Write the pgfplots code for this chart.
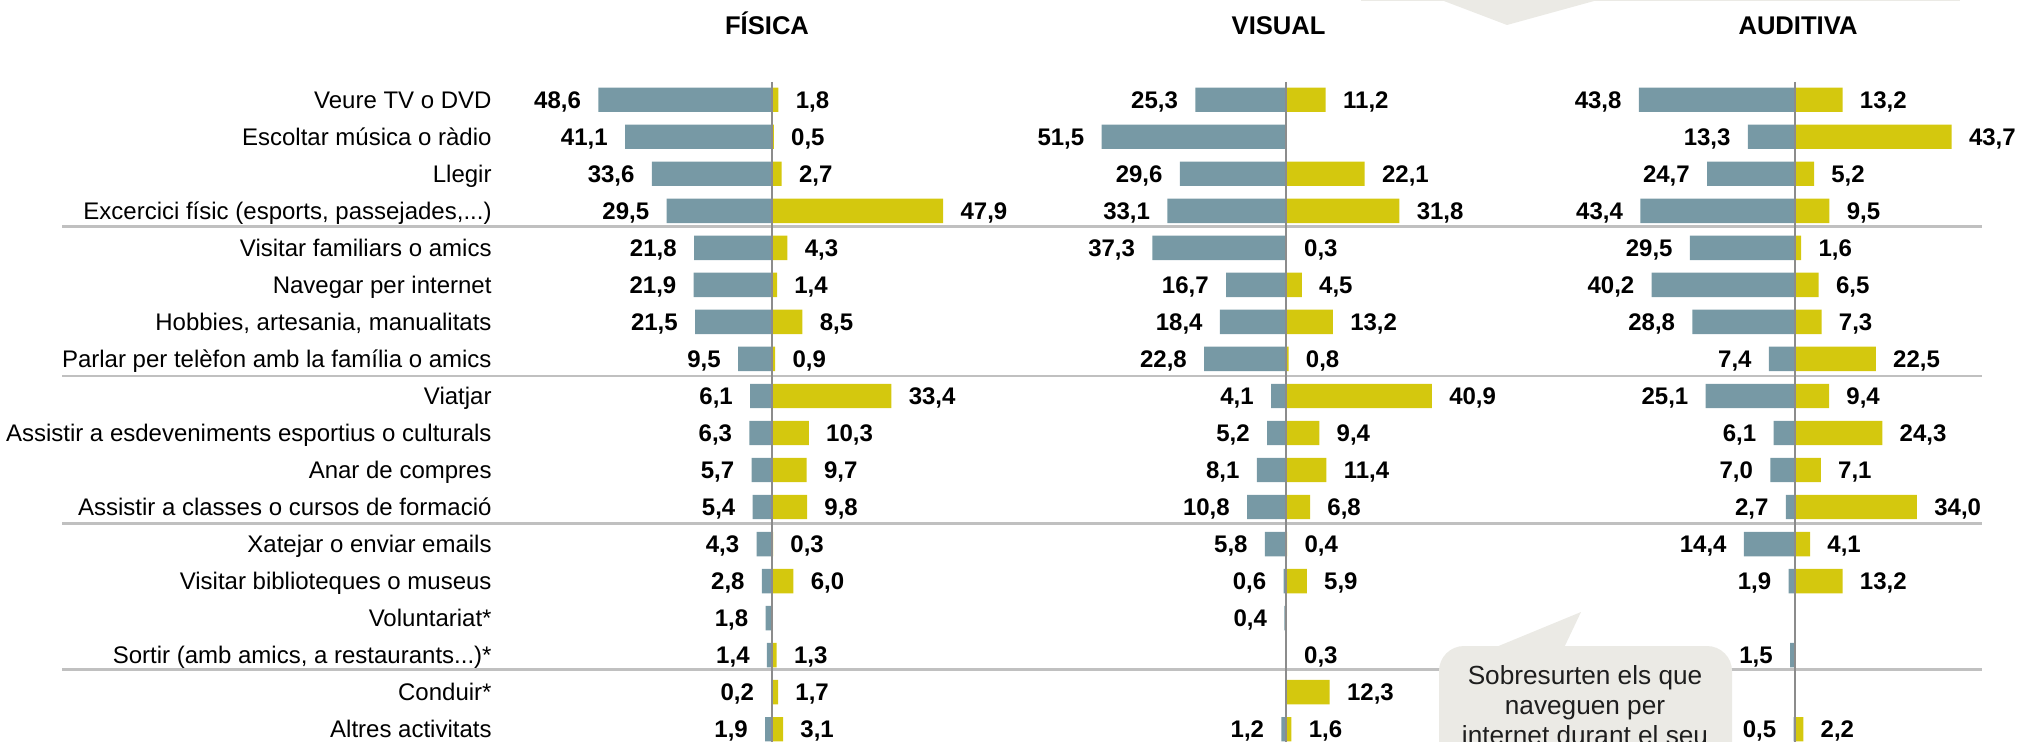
\documentclass[border=0pt]{standalone}
\usepackage{pgfplots}
\pgfplotsset{compat=1.18}
\usepackage{fontspec}
\setmainfont{Liberation Sans}
\definecolor{bgray}{RGB}{119,153,165}
\definecolor{byel}{RGB}{212,200,14}
\definecolor{cgray}{RGB}{235,234,229}
\definecolor{sgray}{RGB}{192,192,192}
\definecolor{zgray}{RGB}{140,140,140}
\definecolor{ctext}{RGB}{30,30,30}
\newcommand{\lbl}{\fontsize{12bp}{14bp}\selectfont}
\newcommand{\val}{\fontsize{12bp}{14bp}\selectfont\bfseries}
\newcommand{\ttl}{\fontsize{12.8bp}{15bp}\selectfont\bfseries}
\newcommand{\calfont}{\fontsize{13.1bp}{15bp}\selectfont}
\newcommand{\ddd}{.{}.{}.}
\pgfplotsset{
  panel/.style={x=1.787bp, y=18.515bp, y dir=reverse,
    xmin=-60, xmax=60, ymin=0, ymax=19, clip=false, anchor=north west},
  neg/.style={xbar, bar width=12.2bp, bar shift=0pt, fill=bgray, draw=none,
    point meta=explicit,
    nodes near coords={\pgfmathprintnumber[fixed,fixed zerofill,precision=1,use comma,assume math mode=true]{\pgfplotspointmeta}},
    every node near coord/.append style={font=\val, text=black, anchor=base east, inner sep=0pt, xshift=-8.5bp, yshift=-4.3bp}},
  pos/.style={xbar, bar width=12.2bp, bar shift=0pt, fill=byel, draw=none,
    point meta=explicit,
    nodes near coords={\pgfmathprintnumber[fixed,fixed zerofill,precision=1,use comma,assume math mode=true]{\pgfplotspointmeta}},
    every node near coord/.append style={font=\val, text=black, anchor=base west, inner sep=0pt, xshift=8.5bp, yshift=-4.3bp}},
}
\begin{document}
\begin{tikzpicture}
\path[use as bounding box] (0,0) rectangle (1009bp,-371bp);
% separators
\foreach \yy in {113.1,188,261.8,334.8}
  \draw[sgray, line width=1.3bp] (31bp,-\yy bp) -- (991bp,-\yy bp);

% FISICA
\begin{axis}[panel, at={(278.78bp,-31.335bp)},
  axis line style={draw=none}, xtick=\empty, ytick={1,2,3,4,5,6,7,8,9,10,11,12,13,14,15,16,17,18},
  major tick length=0pt, tick style={draw=none},
  yticklabel style={font=\lbl, text=black, anchor=base east, inner sep=0pt, xshift=-32.8bp, yshift=-4.3bp},
  yticklabels={Veure TV o DVD, Escoltar música o ràdio, Llegir, {Excercici físic (esports, passejades,\ddd)}, Visitar familiars o amics, Navegar per internet, {Hobbies, artesania, manualitats}, Parlar per telèfon amb la família o amics, Viatjar, Assistir a esdeveniments esportius o culturals, Anar de compres, Assistir a classes o cursos de formació, Xatejar o enviar emails, Visitar biblioteques o museus, Voluntariat*, {Sortir (amb amics, a restaurants\ddd)*}, Conduir*, Altres activitats}]
\addplot[neg] coordinates {(-48.6,1)[48.6] (-41.1,2)[41.1] (-33.6,3)[33.6] (-29.5,4)[29.5] (-21.8,5)[21.8] (-21.9,6)[21.9] (-21.5,7)[21.5] (-9.5,8)[9.5] (-6.1,9)[6.1] (-6.3,10)[6.3] (-5.7,11)[5.7] (-5.4,12)[5.4] (-4.3,13)[4.3] (-2.8,14)[2.8] (-1.8,15)[1.8] (-1.4,16)[1.4] (-0.2,17)[0.2] (-1.9,18)[1.9]};
\addplot[pos] coordinates {(1.8,1)[1.8] (0.5,2)[0.5] (2.7,3)[2.7] (47.9,4)[47.9] (4.3,5)[4.3] (1.4,6)[1.4] (8.5,7)[8.5] (0.9,8)[0.9] (33.4,9)[33.4] (10.3,10)[10.3] (9.7,11)[9.7] (9.8,12)[9.8] (0.3,13)[0.3] (6.0,14)[6.0] (1.3,16)[1.3] (1.7,17)[1.7] (3.1,18)[3.1]};
\draw[zgray, line width=1bp] (axis cs:0,0.52) -- (axis cs:0,19.5);
\end{axis}

% VISUAL
\begin{axis}[panel, at={(535.63bp,-31.335bp)}, hide axis]
\addplot[neg] coordinates {(-25.3,1)[25.3] (-51.5,2)[51.5] (-29.6,3)[29.6] (-33.1,4)[33.1] (-37.3,5)[37.3] (-16.7,6)[16.7] (-18.4,7)[18.4] (-22.8,8)[22.8] (-4.1,9)[4.1] (-5.2,10)[5.2] (-8.1,11)[8.1] (-10.8,12)[10.8] (-5.8,13)[5.8] (-0.6,14)[0.6] (-0.4,15)[0.4] (-1.2,18)[1.2]};
\addplot[pos] coordinates {(11.2,1)[11.2] (22.1,3)[22.1] (31.8,4)[31.8] (0.3,5)[0.3] (4.5,6)[4.5] (13.2,7)[13.2] (0.8,8)[0.8] (40.9,9)[40.9] (9.4,10)[9.4] (11.4,11)[11.4] (6.8,12)[6.8] (0.4,13)[0.4] (5.9,14)[5.9] (0.3,16)[0.3] (12.3,17)[12.3] (1.6,18)[1.6]};
\draw[zgray, line width=1bp] (axis cs:0,0.52) -- (axis cs:0,19.5);
\end{axis}

% AUDITIVA
\begin{axis}[panel, at={(790.48bp,-31.335bp)}, hide axis]
\addplot[neg] coordinates {(-43.8,1)[43.8] (-13.3,2)[13.3] (-24.7,3)[24.7] (-43.4,4)[43.4] (-29.5,5)[29.5] (-40.2,6)[40.2] (-28.8,7)[28.8] (-7.4,8)[7.4] (-25.1,9)[25.1] (-6.1,10)[6.1] (-7.0,11)[7.0] (-2.7,12)[2.7] (-14.4,13)[14.4] (-1.9,14)[1.9] (-1.5,16)[1.5] (-0.5,18)[0.5]};
\addplot[pos] coordinates {(13.2,1)[13.2] (43.7,2)[43.7] (5.2,3)[5.2] (9.5,4)[9.5] (1.6,5)[1.6] (6.5,6)[6.5] (7.3,7)[7.3] (22.5,8)[22.5] (9.4,9)[9.4] (24.3,10)[24.3] (7.1,11)[7.1] (34.0,12)[34.0] (4.1,13)[4.1] (13.2,14)[13.2] (2.2,18)[2.2]};
\draw[zgray, line width=1bp] (axis cs:0,0.52) -- (axis cs:0,19.5);
\end{axis}

% titles
\node[font=\ttl, anchor=base] at (383.5bp,-17.15bp) {FÍSICA};
\node[font=\ttl, anchor=base] at (639.3bp,-17.15bp) {VISUAL};
\node[font=\ttl, anchor=base] at (899bp,-17.15bp) {AUDITIVA};

% top callout remnant
\fill[cgray] (680.5bp,2bp) rectangle (980bp,-0.6bp);
\fill[cgray] (718bp,1bp) -- (802.5bp,1bp) -- (753.5bp,-12.5bp) -- cycle;

% bottom callout
\fill[cgray, rounded corners=12.5bp] (719.5bp,-323bp) rectangle (866bp,-420bp);
\fill[cgray] (742bp,-326bp) -- (790.5bp,-306bp) -- (781bp,-326bp) -- cycle;
\node[font=\calfont, text=ctext, anchor=base] at (792.5bp,-342bp) {Sobresurten els que};
\node[font=\calfont, text=ctext, anchor=base] at (792.5bp,-357bp) {naveguen per};
\node[font=\calfont, text=ctext, anchor=base] at (792.5bp,-372bp) {internet durant el seu};
\end{tikzpicture}
\end{document}
